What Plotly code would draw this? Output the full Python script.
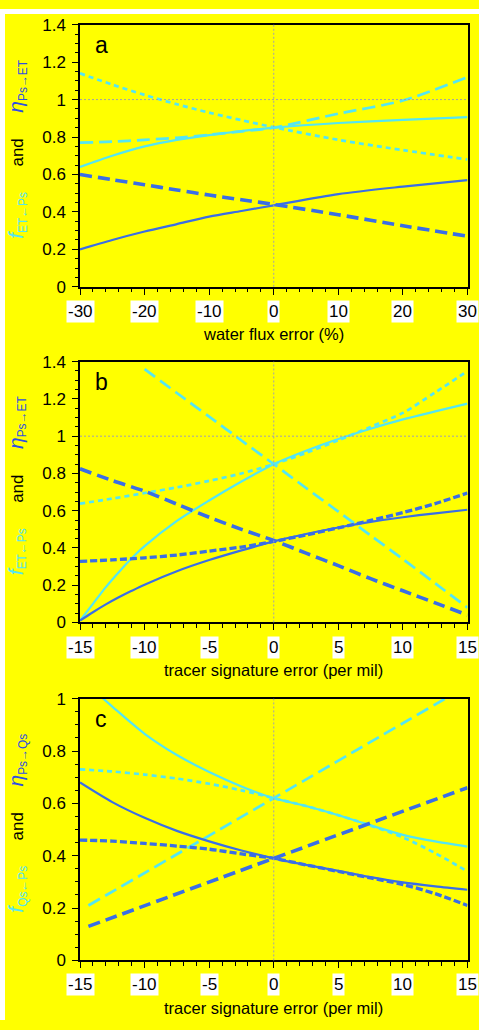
import plotly.graph_objects as go

W, H = 479, 1030
CYAN = "#55E6F2"
BLUE = "#3A6EE6"
TITLE_BLUE = "#2F4FE0"
YELLOW = "#FFFF00"
FONT = "Arial, Liberation Sans, sans-serif"

# ---------------- Panel a: water flux error (%) ----------------
A_X = [-30, -25, -20, -15, -10, -5, 0, 10, 20, 30]
A_F_SOLID = [0.64, 0.70, 0.75, 0.785, 0.81, 0.832, 0.85, 0.875, 0.892, 0.906]
A_F_LONG = [0.77, 0.775, 0.785, 0.796, 0.812, 0.83, 0.85, 0.925, 0.995, 1.12]
A_F_SHORT = [1.14, 1.08, 1.025, 0.975, 0.93, 0.89, 0.852, 0.785, 0.73, 0.68]
A_N_SOLID = [0.20, 0.25, 0.295, 0.335, 0.375, 0.405, 0.435, 0.495, 0.535, 0.57]
A_N_LONG = [0.60, 0.572, 0.545, 0.517, 0.49, 0.465, 0.44, 0.385, 0.326, 0.27]
A_XTICKS = [-30, -20, -10, 0, 10, 20, 30]
A_YTICKS = [0, 0.2, 0.4, 0.6, 0.8, 1, 1.2, 1.4]
A_YTICKTEXT = ["0", "0.2", "0.4", "0.6", "0.8", "1", "1.2", "1.4"]

# ---------------- Panel b: tracer signature error (per mil) ----------------
B_X_FINE = [-15, -14, -13, -12, -11, -10, -7.5, -5, -2.5, 0, 2.5, 5, 7.5, 10, 12.5, 15]
B_F_SOLID = [0.01, 0.10, 0.19, 0.27, 0.345, 0.41, 0.545, 0.655, 0.757, 0.85, 0.922, 0.985, 1.04, 1.09, 1.133, 1.175]
B_N_SOLID = [0.01, 0.055, 0.097, 0.135, 0.17, 0.203, 0.275, 0.335, 0.387, 0.435, 0.475, 0.51, 0.54, 0.565, 0.586, 0.605]
B_X = [-15, -12.5, -10, -7.5, -5, -2.5, 0, 2.5, 5, 7.5, 10, 12.5, 15]
B_F_SHORT = [0.638, 0.665, 0.695, 0.725, 0.76, 0.80, 0.85, 0.91, 0.978, 1.05, 1.125, 1.235, 1.35]
B_N_SHORT = [0.328, 0.336, 0.347, 0.362, 0.383, 0.405, 0.435, 0.47, 0.508, 0.548, 0.59, 0.638, 0.695]
B_N_LONG = [0.825, 0.762, 0.705, 0.635, 0.565, 0.50, 0.44, 0.372, 0.305, 0.235, 0.17, 0.105, 0.04]
B_X_LONG = [-10, -7.5, -5, -2.5, 0, 2.5, 5, 7.5, 10, 12.5, 15]
B_F_LONG = [1.36, 1.232, 1.105, 0.977, 0.85, 0.722, 0.595, 0.467, 0.34, 0.21, 0.08]
B_XTICKS = [-15, -10, -5, 0, 5, 10, 15]
B_YTICKS = A_YTICKS
B_YTICKTEXT = A_YTICKTEXT

# ---------------- Panel c: tracer signature error (per mil) ----------------
C_X = [-15, -12.5, -10, -7.5, -5, -2.5, 0, 2.5, 5, 7.5, 10, 12.5, 15]
C_F_SOLID = [1.08, 0.97, 0.866, 0.785, 0.72, 0.665, 0.62, 0.59, 0.555, 0.516, 0.48, 0.455, 0.435]
C_F_SHORT = [0.73, 0.722, 0.71, 0.695, 0.675, 0.65, 0.62, 0.59, 0.555, 0.515, 0.47, 0.41, 0.34]
C_N_SOLID = [0.68, 0.605, 0.545, 0.495, 0.455, 0.42, 0.39, 0.365, 0.342, 0.318, 0.298, 0.283, 0.27]
C_N_SHORT = [0.46, 0.456, 0.447, 0.437, 0.425, 0.407, 0.39, 0.365, 0.34, 0.315, 0.29, 0.255, 0.21]
C_X_LONG = [-14.35, 0, 15]
C_F_LONG = [0.21, 0.62, 1.05]
C_N_LONG = [0.13, 0.39, 0.66]
C_XTICKS = [-15, -10, -5, 0, 5, 10, 15]
C_YTICKS = [0, 0.2, 0.4, 0.6, 0.8, 1]
C_YTICKTEXT = ["0", "0.2", "0.4", "0.6", "0.8", "1"]

REF_X = 0
REF_Y = 1

PANEL_LABELS = ["a", "b", "c"]
X_TITLES = ["water flux error (%)", "tracer signature error (per mil)", "tracer signature error (per mil)"]

# line styles
S_F_SOLID = dict(color=CYAN, width=2.2)
S_F_LONG = dict(color=CYAN, width=2.7, dash="13px,6px")
S_F_SHORT = dict(color=CYAN, width=2.7, dash="5px,4px")
S_N_SOLID = dict(color=BLUE, width=2.2)
S_N_LONG = dict(color=BLUE, width=3.6, dash="12px,6px")
S_N_SHORT = dict(color=BLUE, width=3.3, dash="7px,3px")


def py(px):
    return 1 - px / H


def pxx(px):
    return px / W


X0, X1 = pxx(80), pxx(467.5)
# (top px, bottom px) for each panel
PANELS = [(16, 283), (359.3, 625), (702.7, 969.3)]

fig = go.Figure()


def add(x, y, style, ax, name):
    fig.add_trace(go.Scatter(x=x, y=y, mode="lines", line=dict(shape="spline", smoothing=0.8, **style),
                             xaxis="x" + ax, yaxis="y" + ax, name=name, showlegend=False,
                             hoverinfo="x+y+name"))


# panel a
add(A_X, A_F_SOLID, S_F_SOLID, "", "f ET←Ps (solid)")
add(A_X, A_F_LONG, S_F_LONG, "", "f ET←Ps (long dash)")
add(A_X, A_F_SHORT, S_F_SHORT, "", "f ET←Ps (short dash)")
add(A_X, A_N_SOLID, S_N_SOLID, "", "η Ps→ET (solid)")
add(A_X, A_N_LONG, S_N_LONG, "", "η Ps→ET (long dash)")
# panel b
add(B_X_FINE, B_F_SOLID, S_F_SOLID, "2", "f ET←Ps (solid)")
add(B_X_LONG, B_F_LONG, S_F_LONG, "2", "f ET←Ps (long dash)")
add(B_X, B_F_SHORT, S_F_SHORT, "2", "f ET←Ps (short dash)")
add(B_X_FINE, B_N_SOLID, S_N_SOLID, "2", "η Ps→ET (solid)")
add(B_X, B_N_LONG, S_N_LONG, "2", "η Ps→ET (long dash)")
add(B_X, B_N_SHORT, S_N_SHORT, "2", "η Ps→ET (short dash)")
# panel c
add(C_X, C_F_SOLID, S_F_SOLID, "3", "f Qs←Ps (solid)")
add(C_X_LONG, C_F_LONG, S_F_LONG, "3", "f Qs←Ps (long dash)")
add(C_X, C_F_SHORT, S_F_SHORT, "3", "f Qs←Ps (short dash)")
add(C_X, C_N_SOLID, S_N_SOLID, "3", "η Ps→Qs (solid)")
add(C_X_LONG, C_N_LONG, S_N_LONG, "3", "η Ps→Qs (long dash)")
add(C_X, C_N_SHORT, S_N_SHORT, "3", "η Ps→Qs (short dash)")

xt_list = [A_XTICKS, B_XTICKS, C_XTICKS]
yt_list = [(A_YTICKS, A_YTICKTEXT), (B_YTICKS, B_YTICKTEXT), (C_YTICKS, C_YTICKTEXT)]
xminor = [2, 1, 1]
subs = [("ET", "Ps"), ("ET", "Ps"), ("Qs", "Ps")]

layout = dict(width=W, height=H, margin=dict(l=0, r=0, t=0, b=0),
              paper_bgcolor=YELLOW, plot_bgcolor=YELLOW, showlegend=False,
              font=dict(family=FONT, color="black", size=17))
annotations = []
shapes = [
    dict(type="rect", xref="paper", yref="paper", x0=0, x1=1, y0=py(5), y1=1,
         fillcolor="white", line_width=0, layer="below"),
    dict(type="rect", xref="paper", yref="paper", x0=0, x1=pxx(5), y0=0, y1=1,
         fillcolor="white", line_width=0, layer="below"),
]

for i, (top, bot) in enumerate(PANELS):
    sfx = "" if i == 0 else str(i + 1)
    xt = xt_list[i]
    yv, ytx = yt_list[i]
    layout["xaxis" + sfx] = dict(
        domain=[X0, X1], range=[xt[0], xt[-1]], anchor="y" + sfx,
        showline=True, linecolor="black", linewidth=1.5, mirror=True,
        ticks="outside", ticklen=6, tickwidth=1.3, tickcolor="black",
        tickvals=xt, showticklabels=False, showgrid=False, zeroline=False,
        minor=dict(dtick=xminor[i], tick0=xt[0], ticks="outside", ticklen=3.5, tickwidth=1.2, tickcolor="black"),
    )
    layout["yaxis" + sfx] = dict(
        domain=[py(bot), py(top)], range=[yv[0], yv[-1]], anchor="x" + sfx,
        showline=True, linecolor="black", linewidth=1.5, mirror=True,
        ticks="outside", ticklen=6, tickwidth=1.3, tickcolor="black",
        tickvals=yv, ticktext=ytx, ticklabelstandoff=3,
        tickfont=dict(size=17, family=FONT, color="black"),
        showgrid=False, zeroline=False,
        minor=dict(dtick=0.05, tick0=0, ticks="outside", ticklen=3.5, tickwidth=1.2, tickcolor="black"),
    )
    xr = "x" + sfx
    yr = "y" + sfx
    # reference lines
    shapes.append(dict(type="line", xref=xr, yref=yr + " domain", x0=REF_X, x1=REF_X, y0=0, y1=1,
                       line=dict(color="#A0A0B0", width=1, dash="2px,2px"), layer="above"))
    if REF_Y < yv[-1]:
        shapes.append(dict(type="line", xref=xr + " domain", yref=yr, x0=0, x1=1, y0=REF_Y, y1=REF_Y,
                           line=dict(color="#A0A0B0", width=1, dash="2px,2px"), layer="above"))
    # x tick labels on white boxes
    tick_y = py(bot + 25)
    for v in xt:
        annotations.append(dict(x=v, xref=xr, y=tick_y, yref="paper", text=str(v), showarrow=False,
                                bgcolor="white", borderpad=1, font=dict(size=17, family=FONT, color="black"),
                                xanchor="center", yanchor="middle"))
    # x title
    annotations.append(dict(x=(X0 + X1) / 2, xref="paper", y=py(bot + 48), yref="paper", text=X_TITLES[i],
                            showarrow=False, font=dict(size=16.5, family=FONT, color="black"),
                            xanchor="center", yanchor="middle"))
    # panel label
    annotations.append(dict(x=pxx(101), xref="paper", y=py(top + 21), yref="paper", text=PANEL_LABELS[i],
                            showarrow=False, font=dict(size=23, family=FONT, color="black"),
                            xanchor="center", yanchor="middle"))
    # y title
    a_, b_ = subs[i]
    ytitle = (f"<span style='color:{CYAN};font-size:21px'><i>f</i></span>"
              f"<span style='color:{CYAN}'><sub>{a_}←{b_}</sub></span>"
              f"\u2003\u2002<span style='color:black'>and</span>\u2003\u2002"
              f"<span style='color:{TITLE_BLUE};font-size:21px'><i>η</i></span>"
              f"<span style='color:{TITLE_BLUE}'><sub>{b_}→{a_}</sub></span>")
    annotations.append(dict(x=pxx(17), xref="paper", y=py((top + bot) / 2 - 6), yref="paper", text=ytitle,
                            textangle=-90, showarrow=False, font=dict(size=17, family=FONT, color="black"),
                            xanchor="center", yanchor="middle"))

layout["annotations"] = annotations
layout["shapes"] = shapes
fig.update_layout(**layout)
fig.write_html("out.html", config={"displayModeBar": False},
               post_script="document.body.style.margin='0';document.body.style.overflow='hidden';")
